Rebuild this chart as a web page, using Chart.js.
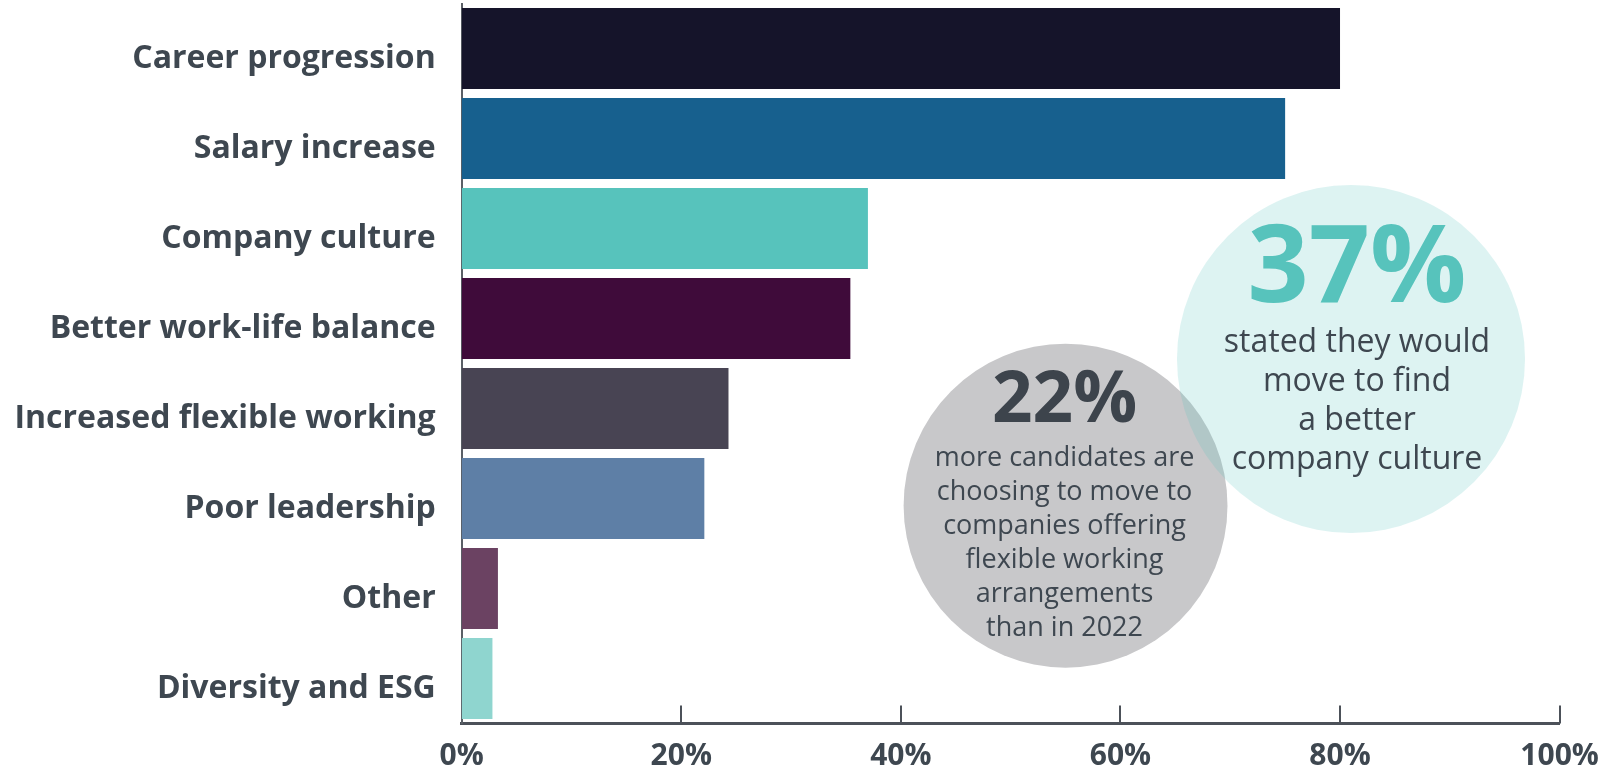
<!DOCTYPE html>
<html>
<head>
<meta charset="utf-8">
<title>Reasons for moving jobs</title>
<script src="https://cdn.jsdelivr.net/npm/chart.js@4/dist/chart.umd.min.js"></script>
<style>
  html, body { margin: 0; padding: 0; background: #ffffff; }
  #wrap { width: 1609px; height: 773px; position: relative; }
</style>
</head>
<body>
<div id="wrap"><canvas id="chart"></canvas></div>
<script>
const categories = [
  "Career progression",
  "Salary increase",
  "Company culture",
  "Better work-life balance",
  "Increased flexible working",
  "Poor leadership",
  "Other",
  "Diversity and ESG",
];
const values = [80, 75, 37, 35.4, 24.3, 22.1, 3.3, 2.8];
const barColors = [
  "#15142a",
  "#17608e",
  "#57c3bc",
  "#3f0b3a",
  "#484453",
  "#5e7fa6",
  "#6b4262",
  "#8fd5cf",
];
const xTicks = [0, 20, 40, 60, 80, 100];

// Callout bubbles: centre given in axis units (percent, category index)
const culturePct = 37;
const flexiblePct = 22;
const cultureLines = ["stated they would", "move to find", "a better", "company culture"];
const flexibleLines = [
  "more candidates are",
  "choosing to move to",
  "companies offering",
  "flexible working",
  "arrangements",
  "than in 2022",
];

const textColor = "#3e4750";
const axisColor = "#4c5159";

Chart.defaults.font.family = "'Open Sans', sans-serif";

// Short tick marks pointing up into the plot area
const innerTicks = {
  id: "innerTicks",
  afterDraw(chart) {
    const ctx = chart.ctx;
    const x = chart.scales.x;
    const bottom = chart.chartArea.bottom;
    ctx.save();
    ctx.strokeStyle = axisColor;
    ctx.lineWidth = 2;
    for (const v of xTicks) {
      if (v === 0) continue;
      const px = Math.round(x.getPixelForValue(v));
      ctx.beginPath();
      ctx.moveTo(px, bottom - 18);
      ctx.lineTo(px, bottom);
      ctx.stroke();
    }
    ctx.restore();
  },
};

const bubbles = {
  id: "bubbles",
  afterDatasetsDraw(chart) {
    const ctx = chart.ctx;
    const x = chart.scales.x;
    const y = chart.scales.y;
    const unit = x.getPixelForValue(1) - x.getPixelForValue(0);

    const grey = { cx: x.getPixelForValue(55), cy: y.getPixelForValue(5.08), r: 14.75 * unit };
    const teal = { cx: x.getPixelForValue(81), cy: y.getPixelForValue(3.45), r: 15.85 * unit };

    ctx.save();
    ctx.beginPath();
    ctx.arc(grey.cx, grey.cy, grey.r, 0, Math.PI * 2);
    ctx.fillStyle = "#c8c8ca";
    ctx.fill();

    ctx.beginPath();
    ctx.arc(teal.cx, teal.cy, teal.r, 0, Math.PI * 2);
    ctx.fillStyle = "rgba(87, 195, 188, 0.2)";
    ctx.fill();

    ctx.textAlign = "center";
    ctx.textBaseline = "alphabetic";

    // grey bubble
    ctx.fillStyle = "#3d444c";
    ctx.font = "bold 71px 'Open Sans'";
    ctx.fillText(flexiblePct + "%", grey.cx - 1, grey.cy - 84);
    ctx.fillStyle = textColor;
    ctx.font = "27px 'Open Sans'";
    flexibleLines.forEach((line, i) => {
      ctx.fillText(line, grey.cx - 1, grey.cy - 40 + i * 34);
    });

    // teal bubble
    ctx.fillStyle = "#57c3bc";
    ctx.font = "bold 107px 'Open Sans'";
    ctx.fillText(culturePct + "%", teal.cx + 6, teal.cy - 57);
    ctx.fillStyle = textColor;
    ctx.font = "32px 'Open Sans'";
    cultureLines.forEach((line, i) => {
      ctx.fillText(line, teal.cx + 6, teal.cy - 7.5 + i * 39);
    });
    ctx.restore();
  },
};

const ctx = document.getElementById("chart").getContext("2d");

new Chart(ctx, {
  type: "bar",
  data: {
    labels: categories,
    datasets: [
      {
        data: values,
        backgroundColor: barColors,
        borderWidth: 0,
        barPercentage: 0.9,
        categoryPercentage: 1,
      },
    ],
  },
  options: {
    indexAxis: "y",
    animation: false,
    responsive: true,
    maintainAspectRatio: false,
    layout: {
      padding: { left: 0, right: 49.4, top: 3.5, bottom: 0 },
    },
    plugins: {
      legend: { display: false },
      tooltip: { enabled: false },
    },
    scales: {
      x: {
        min: 0,
        max: 100,
        afterFit: (scale) => {
          // keep the edge labels from pushing the plot area inwards
          scale.height = 49.5;
          scale.paddingLeft = 0;
          scale.paddingRight = 0;
        },
        afterBuildTicks: (scale) => {
          scale.ticks = xTicks.map((v) => ({ value: v }));
        },
        grid: { display: false, drawTicks: false },
        border: { display: true, color: axisColor, width: 3 },
        ticks: {
          padding: 15,
          color: textColor,
          font: { size: 30, weight: "bold" },
          maxRotation: 0,
          callback: (v) => v + "%",
        },
      },
      y: {
        afterFit: (scale) => {
          scale.width = 461.7;
          scale.paddingTop = 0;
          scale.paddingBottom = 0;
        },
        grid: { display: false, drawTicks: false },
        border: { display: true, color: "#5a5f66", width: 2 },
        ticks: {
          padding: 26,
          labelOffset: 10,
          color: textColor,
          font: { size: 32, weight: "bold" },
        },
      },
    },
  },
  plugins: [innerTicks, bubbles],
});
</script>
</body>
</html>
